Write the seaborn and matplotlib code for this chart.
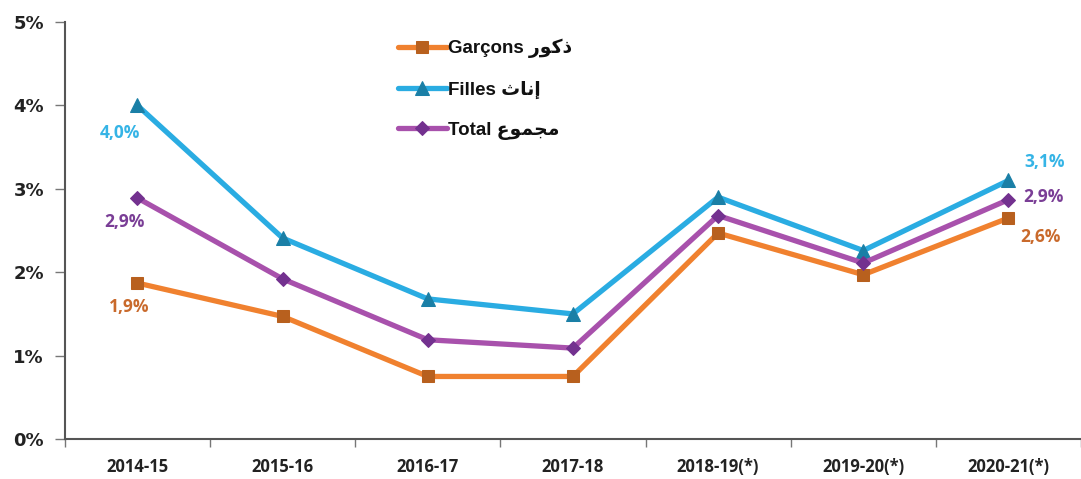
import matplotlib
matplotlib.use("Agg")
import matplotlib.pyplot as plt
from matplotlib.ticker import FixedLocator, PercentFormatter
import seaborn as sns
import numpy as np

categories = ["2014-15", "2015-16", "2016-17", "2017-18", "2018-19(*)", "2019-20(*)", "2020-21(*)"]
garcons = [1.87, 1.47, 0.75, 0.75, 2.47, 1.97, 2.65]
filles = [4.0, 2.41, 1.68, 1.50, 2.90, 2.26, 3.10]
total = [2.89, 1.92, 1.19, 1.09, 2.68, 2.11, 2.87]
y_ticks = [0, 1, 2, 3, 4, 5]

# Arabic words written in presentation forms (visual order) since matplotlib has no shaping
ar_garcons = "\uFEAD\uFEEE\uFEDB\uFEAB"   # ذكور
ar_filles = "\uFE99\uFE8E\uFEE7\uFE87"    # إناث
ar_total = "\uFEC9\uFEEE\uFEE4\uFEA0\uFEE3"  # مجموع

sns.set_theme(style="white")
plt.rcParams['font.family'] = ['Liberation Sans', 'DejaVu Sans']

fig = plt.figure(figsize=(10.81, 4.79), dpi=100)
ax = fig.add_axes([0.060, 0.0835, 0.940, 0.8705])

x = np.arange(len(categories))
series = [
    (garcons, "Garçons " + ar_garcons, "#F0812F", "s", "#B8601E", 9),
    (filles, "Filles " + ar_filles, "#2AACE2", "^", "#1A7FA6", 10.5),
    (total, "Total " + ar_total, "#A851AC", "D", "#73318F", 7.5),
]
for vals, lab, col, mk, mkc, ms in series:
    sns.lineplot(x=x, y=vals, ax=ax, color=col, linewidth=3.8, marker=mk,
                 markersize=ms, markerfacecolor=mkc, markeredgecolor=mkc,
                 label=lab, zorder=3)

ax.set_xlim(-0.5, 6.466)
ax.set_ylim(0, 5)
ax.yaxis.set_major_locator(FixedLocator(y_ticks))
ax.yaxis.set_major_formatter(PercentFormatter(decimals=0))
ax.set_xticks(x)
ax.set_xticklabels(categories)
ax.set_xticks(np.arange(-0.5, 6.6, 1), minor=True)
ax.tick_params(axis='x', which='major', length=0, pad=14, labelsize=12, labelcolor="#222222")
ax.tick_params(axis='x', which='minor', length=6, width=1, color="#777777", bottom=True)
ax.tick_params(axis='y', which='major', length=7, width=1, color="#777777", left=True,
               labelsize=13, labelcolor="#222222", pad=8)
for t in ax.get_xticklabels():
    t.set_fontweight("bold")
    t.set_family(["Open Sans", "DejaVu Sans"])
for t in ax.get_yticklabels():
    t.set_fontweight("bold")
    t.set_family(["DejaVu Sans"])

sns.despine(ax=ax)
for s in ["left", "bottom"]:
    ax.spines[s].set_color("#555555")
    ax.spines[s].set_linewidth(1.5)
ax.grid(False)

lab_font = dict(fontsize=12.5, fontweight="bold", family=["Open Sans", "DejaVu Sans"],
                ha="center", va="center", textcoords="offset pixels")
ax.annotate("4,0%", (0, filles[0]), xytext=(-18, -28), color="#35B4E6", **lab_font)
ax.annotate("2,9%", (0, total[0]), xytext=(-13, -24), color="#7A3E96", **lab_font)
ax.annotate("1,9%", (0, garcons[0]), xytext=(-8, -24), color="#C96A2C", **lab_font)
ax.annotate("3,1%", (6, filles[6]), xytext=(36, 18), color="#35B4E6", **lab_font)
ax.annotate("2,9%", (6, total[6]), xytext=(35, 3), color="#7A3E96", **lab_font)
ax.annotate("2,6%", (6, garcons[6]), xytext=(32, -19), color="#C96A2C", **lab_font)

leg = ax.legend(loc="upper left", bbox_to_anchor=(0.311, 1.0), frameon=False,
                labelspacing=1.2, handlelength=2.6, handletextpad=0.1,
                prop=dict(family=["Liberation Sans", "DejaVu Sans"], weight="bold", size=13.5))
for t in leg.get_texts():
    t.set_color("#111111")

fig.savefig("out.png", dpi=100)
